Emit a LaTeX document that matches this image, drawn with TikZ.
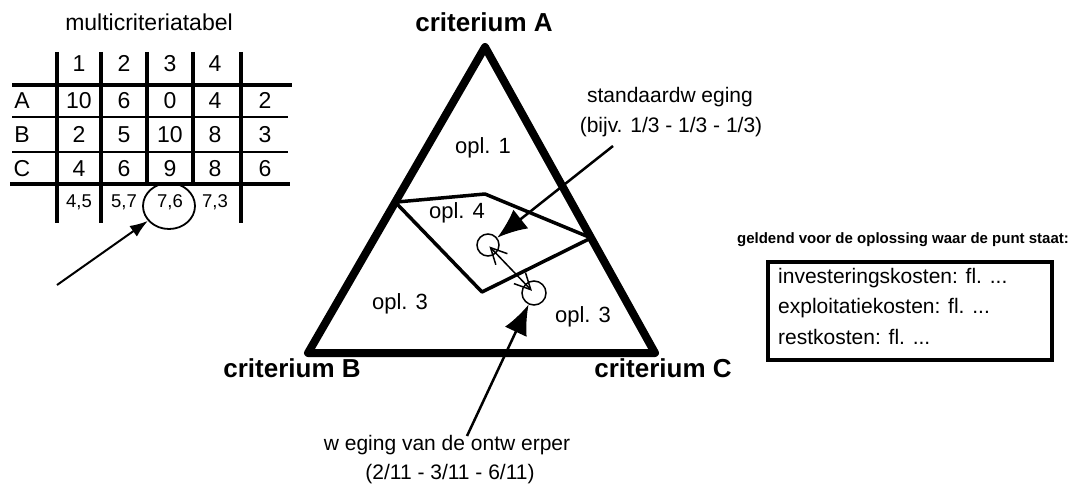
\documentclass[tikz,border=0pt]{standalone}
\usepackage{fontspec}
\setmainfont{Liberation Sans}
\usetikzlibrary{arrows.meta,calc,shapes.geometric}
\newcommand{\fsz}[1]{\fontsize{#1}{#1}\selectfont}
\begin{document}
\begin{tikzpicture}[x=1pt,y=-1pt,
  txt/.style={inner sep=0pt, font=\fsz{#1}},
  btxt/.style={inner sep=0pt, font=\fsz{#1}\bfseries},
  cell/.style={inner sep=0pt, anchor=base, font=\fsz{#1}},
  trib/.style={line width=8pt, line join=round, line cap=round},
  divide/.style={line width=3.5pt, line join=round},
  thickh/.style={line width=4pt},
  thinh/.style={line width=2pt},
  tv/.style={line width=3.5pt},
  pointer/.style={line width=2.5pt, -{Latex[length=30pt,width=24pt]}},
  smallpointer/.style={line width=2pt, -{Latex[length=18pt,width=13pt]}},
  dbl/.style={line width=1.5pt, {Straight Barb[length=16pt,width=16pt]}-{Straight Barb[length=16pt,width=16pt]}},
  spot/.style={circle, draw, line width=1.5pt, inner sep=0pt, minimum size=#1},
]
\useasboundingbox (0,0) rectangle (1078,487);

% ---------------- table ----------------
\node[txt=23] (mt) at (149,22) {multicriteriatabel};
\foreach \x in {57,101,241} \draw[tv] (\x,52) -- (\x,223);
\foreach \x in {147,193} \draw[tv] (\x,52) -- (\x,184);
\draw[thickh] (12,85) -- (292,85);
\draw[thinh] (12,117) -- (288,117);
\draw[thinh] (12,152) -- (288,152);
\draw[thickh] (10,184) -- (290,184);

\foreach \v/\x [count=\i] in {1/79,2/124,3/170,4/215}
  \node[cell=23] (h\i) at (\x,71) {\v};
\foreach \r/\y/\a/\b/\c/\d/\e in {A/108/10/6/0/4/2, B/142/2/5/10/8/3, C/176/4/6/9/8/6} {
  \node[cell=23] (r\r) at (22,\y) {\r};
  \foreach \v/\x [count=\i] in {\a/79,\b/124,\c/170,\d/215,\e/265}
    \node[cell=23] (r\r\i) at (\x,\y) {\v};
}
\node[cell=18.5] (s1) at (79,207.5) {4,5};
\node[cell=18.5] (s2) at (124,207.5) {5,7};
\node[cell=18.5] (s3) at (170,207.5) {7,6};
\node[cell=18.5] (s4) at (215,207.5) {7,3};
\node[ellipse, draw, line width=1.8pt, minimum width=52pt, minimum height=46pt, inner sep=0pt] (ell) at (169,206) {};
\coordinate (t0) at (57,285);
\draw[smallpointer] (t0) -- (ell);

% ---------------- triangle ----------------
\coordinate (A) at (485,47);
\coordinate (B) at (308,353);
\coordinate (C) at (655,353);
\draw[trib] (A) -- (B) -- (C) -- cycle;
\coordinate (L) at ($(A)!0.507!(B)$);
\coordinate (K) at (485,194);
\coordinate (R) at ($(A)!0.624!(C)$);
\coordinate (D) at (482,292);
\draw[divide] (L) -- (K) -- (R) -- (D) -- cycle;

\node[btxt=26] (la) at (484,22) {criterium A};
\node[btxt=26] (lb) at (292,368) {criterium B};
\node[btxt=26] (lc) at (663,368) {criterium C};

\node[txt=22] (o1) at (483,148) {opl. 1};
\node[txt=22] (o4) at (457,213) {opl. 4};
\node[txt=22] (o3a) at (400,304) {opl. 3};
\node[txt=22] (o3b) at (583,317) {opl. 3};

\node[spot=22pt] (c1) at (488,245) {};
\node[spot=24pt] (c2) at (534,293) {};

\node[txt=21] (sw1) at (670,97) {standaardw eging};
\node[txt=21] (sw2) at (671,127) {(bijv. 1/3 - 1/3 - 1/3)};
\coordinate (s0) at (613,146);
\draw[pointer] (s0) -- (c1);

\node[txt=21] (wo1) at (447,445) {w eging van de ontw erper};
\node[txt=21] (wo2) at (450,474) {(2/11 - 3/11 - 6/11)};
\coordinate (w0) at (467,436);
\draw[pointer] (w0) -- (c2);

\draw[dbl, shorten <=2pt, shorten >=3pt] (c1.center) -- (c2.center);

% ---------------- cost box ----------------
\node[btxt=15] (gv) at (903,240) {geldend voor de oplossing waar de punt staat:};
\node[draw, line width=4pt, minimum width=284pt, minimum height=98pt, inner sep=0pt] (box) at (910,311) {};
\node[txt=21, anchor=west] (k1) at (778,278) {investeringskosten: fl. ...};
\node[txt=21, anchor=west] (k2) at (778,308) {exploitatiekosten: fl. ...};
\node[txt=21, anchor=west] (k3) at (778,337) {restkosten: fl. ...};
\end{tikzpicture}
\end{document}
